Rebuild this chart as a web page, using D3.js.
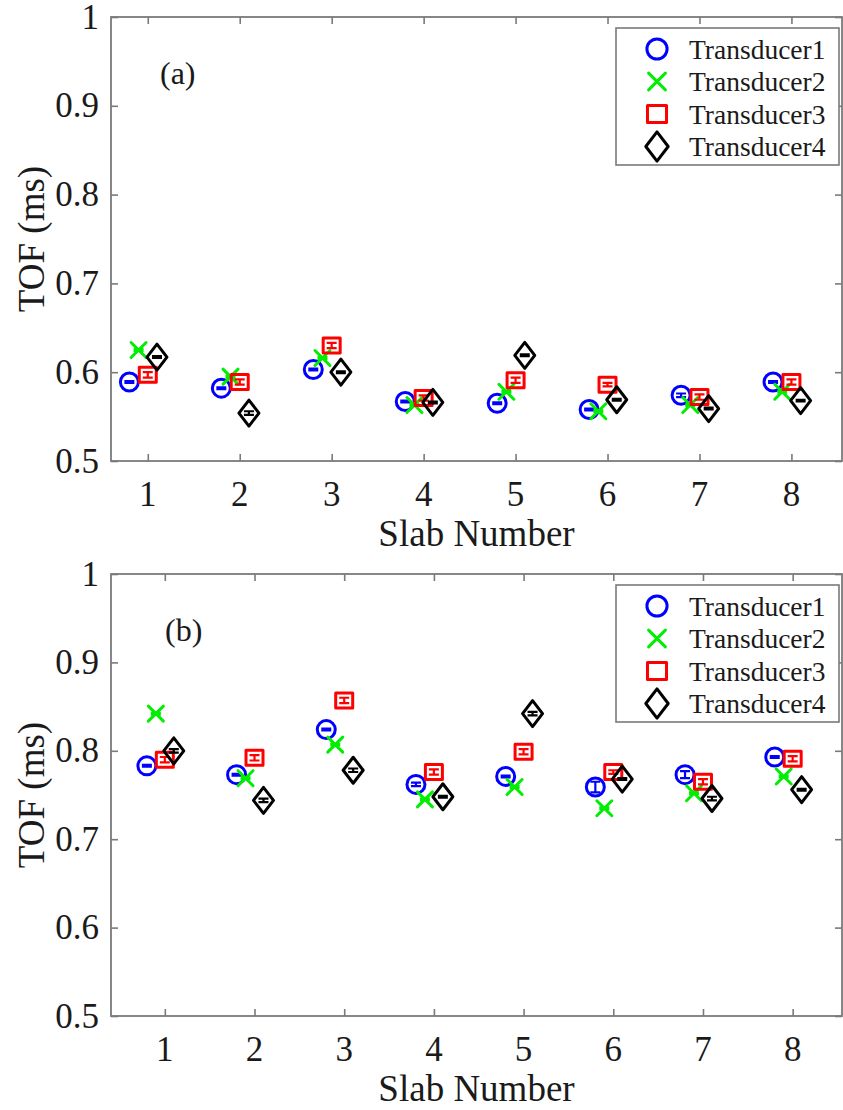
<!DOCTYPE html>
<html>
<head>
<meta charset="utf-8">
<script src="https://cdn.jsdelivr.net/npm/d3@7"></script>
<style>
  html, body { margin: 0; padding: 0; background: #fff; }
  svg { display: block; }
  svg text { font-family: "Liberation Serif", "Times New Roman", serif; }
</style>
</head>
<body>
<script>
// slab numbers and series
const slabs = [1, 2, 3, 4, 5, 6, 7, 8];
const transducers = ["Transducer1", "Transducer2", "Transducer3", "Transducer4"];
const yTicks = [0.5, 0.6, 0.7, 0.8, 0.9, 1];

// panel (a) TOF (ms), one row per transducer
const tofA = [
  [0.589, 0.582, 0.603, 0.567, 0.565, 0.558, 0.574, 0.589],
  [0.625, 0.595, 0.616, 0.563, 0.578, 0.556, 0.563, 0.578],
  [0.597, 0.589, 0.630, 0.571, 0.591, 0.586, 0.572, 0.589],
  [0.617, 0.554, 0.600, 0.566, 0.619, 0.569, 0.559, 0.568]
];
const errA = [
  [0.001, 0.001, 0.001, 0.001, 0.001, 0.001, 0.002, 0.001],
  [0.001, 0.001, 0.001, 0.001, 0.001, 0.001, 0.001, 0.001],
  [0.003, 0.003, 0.003, 0.003, 0.003, 0.002, 0.003, 0.003],
  [0.001, 0.002, 0.001, 0.001, 0.001, 0.001, 0.001, 0.001]
];

// panel (b) TOF (ms)
const tofB = [
  [0.783, 0.773, 0.824, 0.762, 0.771, 0.759, 0.773, 0.793],
  [0.842, 0.769, 0.807, 0.745, 0.759, 0.735, 0.752, 0.771],
  [0.790, 0.792, 0.857, 0.776, 0.799, 0.776, 0.765, 0.791],
  [0.800, 0.744, 0.778, 0.748, 0.842, 0.768, 0.746, 0.756]
];
const errB = [
  [0.001, 0.001, 0.001, 0.002, 0.001, 0.006, 0.004, 0.001],
  [0.001, 0.001, 0.001, 0.001, 0.001, 0.001, 0.001, 0.001],
  [0.003, 0.003, 0.003, 0.003, 0.003, 0.002, 0.003, 0.003],
  [0.002, 0.002, 0.002, 0.001, 0.002, 0.001, 0.002, 0.001]
];

const colors = ["#0000ff", "#00ee00", "#ff0000", "#000000"];
const shift = [-0.2, -0.1, 0, 0.1];

const W = 843, H = 1110;
const left = 111, right = 842;
const axisColor = "#7a7a7a", textColor = "#1a1a1a";

const svg = d3.select("body").append("svg")
  .attr("width", W).attr("height", H);

// marker paths
function markerPath(i, s) {
  if (i === 0) {
    const r = 9 * s;
    return `M${-r},0A${r},${r} 0 1,0 ${r},0A${r},${r} 0 1,0 ${-r},0Z`;
  }
  if (i === 1) {
    const a = 7.5 * s;
    return `M${-a},${-a}L${a},${a}M${-a},${a}L${a},${-a}`;
  }
  if (i === 2) {
    const w = 8.5 * s, h = 7.5 * s;
    return `M${-w},${-h}H${w}V${h}H${-w}Z`;
  }
  const w = 10 * s, h = 13 * s;
  return `M0,${-h}L${w},0L0,${h}L${-w},0Z`;
}

function drawPanel(cfg) {
  const x = d3.scaleLinear().domain(cfg.xDomain).range([left, right]);
  const y = d3.scaleLinear().domain([0.5, 1]).range([cfg.bottom, cfg.top]);
  const g = svg.append("g");

  // box
  g.append("rect")
    .attr("x", left).attr("y", cfg.top)
    .attr("width", right - left).attr("height", cfg.bottom - cfg.top)
    .attr("fill", "none").attr("stroke", axisColor).attr("stroke-width", 1.8);

  // inward ticks on all four sides (labels added separately below)
  const styleAxis = sel => {
    sel.select(".domain").remove();
    sel.selectAll(".tick text").remove();
    sel.selectAll(".tick line").attr("stroke", axisColor).attr("stroke-width", 1.6);
  };
  g.append("g").attr("transform", `translate(0,${cfg.bottom})`)
    .call(d3.axisBottom(x).tickValues(slabs).tickSize(-7)).call(styleAxis);
  g.append("g").attr("transform", `translate(0,${cfg.top})`)
    .call(d3.axisTop(x).tickValues(slabs).tickSize(-7)).call(styleAxis);
  g.append("g").attr("transform", `translate(${left},0)`)
    .call(d3.axisLeft(y).tickValues(yTicks).tickSize(-7)).call(styleAxis);
  g.append("g").attr("transform", `translate(${right},0)`)
    .call(d3.axisRight(y).tickValues(yTicks).tickSize(-7)).call(styleAxis);

  // tick labels
  g.append("g").selectAll("text").data(slabs).join("text")
    .attr("x", d => x(d)).attr("y", cfg.bottom + 45)
    .attr("text-anchor", "middle").attr("fill", textColor)
    .style("font-size", "35px").text(d3.format("d"));
  g.append("g").selectAll("text").data(yTicks).join("text")
    .attr("x", left - 12).attr("y", d => y(d)).attr("dy", "0.33em")
    .attr("text-anchor", "end").attr("fill", textColor)
    .style("font-size", "35px").text(d => d === 1 ? "1" : d.toFixed(1));

  // axis titles
  g.append("text")
    .attr("x", (left + right) / 2).attr("y", cfg.bottom + 85)
    .attr("text-anchor", "middle").attr("fill", textColor)
    .style("font-size", "37px").text("Slab Number");
  g.append("text")
    .attr("transform", `translate(44,${(cfg.top + cfg.bottom) / 2}) rotate(-90)`)
    .attr("text-anchor", "middle").attr("fill", textColor)
    .style("font-size", "37px").text("TOF (ms)");

  // panel tag
  g.append("text")
    .attr("x", cfg.tagX).attr("y", cfg.top + 67)
    .attr("fill", textColor).style("font-size", "32px").text(cfg.tag);

  // data with error bars
  cfg.values.forEach((vals, i) => {
    const sg = g.append("g").attr("stroke", colors[i]).attr("fill", "none")
      .attr("stroke-width", 3).attr("stroke-linejoin", "round").attr("stroke-linecap", "round");
    const pts = slabs.map((s, j) => ({ s, v: vals[j], e: cfg.errs[i][j] }));
    sg.selectAll("path.err").data(pts).join("path").attr("class", "err")
      .attr("stroke-width", 2.2).attr("stroke-linecap", "butt")
      .attr("d", d => {
        const cx = x(d.s + shift[i]), y0 = y(d.v - d.e), y1 = y(d.v + d.e);
        return `M${cx},${y0}V${y1}M${cx - 5},${y0}H${cx + 5}M${cx - 5},${y1}H${cx + 5}`;
      });
    sg.selectAll("path.mk").data(pts).join("path").attr("class", "mk")
      .attr("transform", d => `translate(${x(d.s + shift[i])},${y(d.v)})`)
      .attr("d", markerPath(i, 1));
  });

  // legend
  const lx = 616, ly = cfg.top + 11, lw = 223, lh = 137;
  const lg = g.append("g");
  lg.append("rect").attr("x", lx).attr("y", ly).attr("width", lw).attr("height", lh)
    .attr("fill", "#fff").attr("stroke", axisColor).attr("stroke-width", 1.6);
  transducers.forEach((name, i) => {
    const cy = ly + 21 + i * 32.5;
    lg.append("path")
      .attr("transform", `translate(${lx + 41},${cy})`)
      .attr("d", markerPath(i, 1.12))
      .attr("fill", "none").attr("stroke", colors[i]).attr("stroke-width", 3)
      .attr("stroke-linejoin", "round").attr("stroke-linecap", "round");
    lg.append("text").attr("x", lx + 73).attr("y", cy).attr("dy", "0.35em")
      .attr("fill", textColor).style("font-size", "27.5px").text(name);
  });
}

drawPanel({ top: 17, bottom: 461, xDomain: [0.6, 8.55], values: tofA, errs: errA, tag: "(a)", tagX: 160 });
drawPanel({ top: 574, bottom: 1016, xDomain: [0.4, 8.55], values: tofB, errs: errB, tag: "(b)", tagX: 165 });
</script>
</body>
</html>
